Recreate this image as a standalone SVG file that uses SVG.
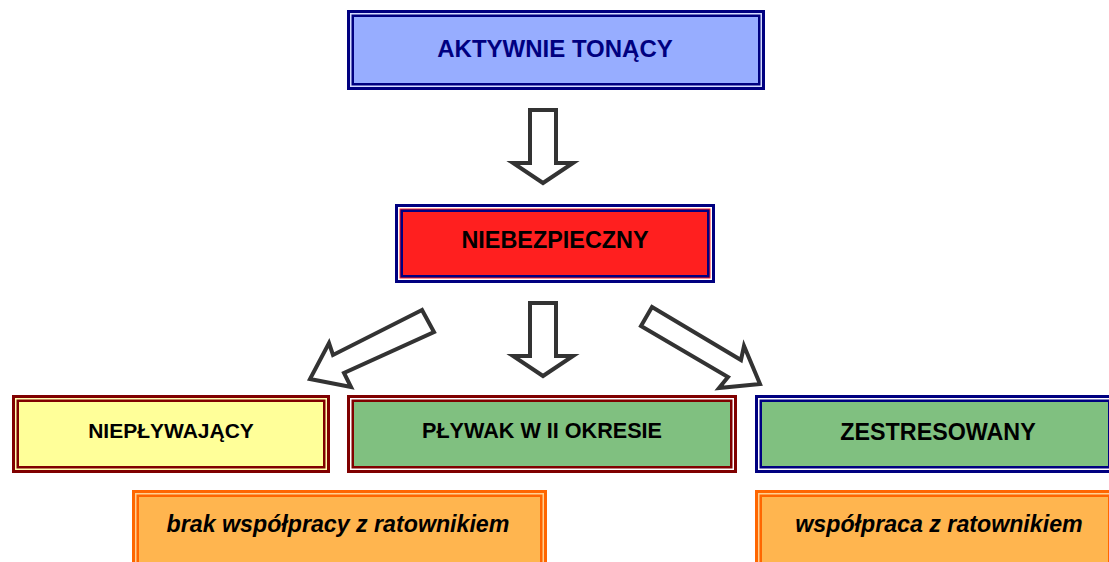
<svg xmlns="http://www.w3.org/2000/svg" width="1109" height="562" viewBox="0 0 1109 562">
<style>
  .t { font-family: "Liberation Sans", Arial, sans-serif; font-weight: bold; text-anchor: middle; }
  .it { font-style: italic; }
  .arrow { fill: #ffffff; stroke: #333333; stroke-width: 4; stroke-linejoin: miter; }
  .navy { fill: #000080; }
  .dred { fill: #800000; }
  .orng { fill: #FF6600; }
</style>
<rect width="1109" height="562" fill="#ffffff"/>

<g id="aktywnie">
  <rect class="navy" x="347" y="10" width="418" height="80"/>
  <rect x="350" y="13" width="412" height="74" fill="#D4DCFF"/>
  <rect class="navy" x="351.5" y="14.5" width="409" height="71"/>
  <rect x="354" y="17" width="404" height="66" fill="#97ADFF"/>
  <text class="t" x="555" y="57" font-size="24" fill="#000080">AKTYWNIE TONĄCY</text>
</g>

<g id="niebezpieczny">
  <rect class="navy" x="395" y="204" width="320" height="79"/>
  <rect x="398" y="207" width="314" height="73" fill="#ffffff"/>
  <rect x="399.5" y="208.5" width="311" height="70" fill="#FF2020"/>
  <rect class="navy" x="400.5" y="209.5" width="309" height="68"/>
  <rect x="403" y="212" width="304" height="63" fill="#FF1F1F"/>
  <text class="t" x="555" y="248" font-size="23.4" fill="#000000">NIEBEZPIECZNY</text>
</g>

<g id="nieplywajacy">
  <rect class="dred" x="12" y="395" width="318" height="78"/>
  <rect x="15" y="398" width="312" height="72" fill="#FFFFB0"/>
  <rect class="dred" x="16.5" y="399.5" width="309" height="69"/>
  <rect x="19" y="402" width="304" height="64" fill="#FFFF99"/>
  <text class="t" x="171" y="438" font-size="21" fill="#000000">NIEPŁYWAJĄCY</text>
</g>

<g id="plywak">
  <rect class="dred" x="347" y="395" width="390" height="78"/>
  <rect x="350" y="398" width="384" height="72" fill="#ffffff"/>
  <rect class="dred" x="351.5" y="399.5" width="381" height="69"/>
  <rect x="354" y="402" width="376" height="64" fill="#80C080"/>
  <text class="t" x="542" y="438" font-size="21.6" fill="#000000">PŁYWAK W II OKRESIE</text>
</g>

<g id="zestresowany">
  <rect class="navy" x="755" y="395" width="360" height="78"/>
  <rect x="758" y="398" width="354" height="72" fill="#ffffff"/>
  <rect class="navy" x="759.5" y="399.5" width="351" height="69"/>
  <rect x="762" y="402" width="346" height="64" fill="#80C080"/>
  <text class="t" x="938" y="440" font-size="23.3" fill="#000000">ZESTRESOWANY</text>
</g>

<g id="brak">
  <rect class="orng" x="132" y="490" width="415" height="80"/>
  <rect x="135" y="493" width="409" height="74" fill="#FFD090"/>
  <rect class="orng" x="136.5" y="494.5" width="406" height="71"/>
  <rect x="139" y="497" width="401" height="66" fill="#FFB54F"/>
  <text class="t it" x="338" y="532" font-size="23.2" fill="#000000">brak współpracy z ratownikiem</text>
</g>

<g id="wspolpraca">
  <rect class="orng" x="755" y="490" width="360" height="80"/>
  <rect x="758" y="493" width="354" height="74" fill="#FFD090"/>
  <rect class="orng" x="759.5" y="494.5" width="351" height="71"/>
  <rect x="762" y="497" width="346" height="66" fill="#FFB54F"/>
  <text class="t it" x="939" y="532" font-size="23.2" fill="#000000">współpraca z ratownikiem</text>
</g>

<g id="connectors">
  <polygon class="arrow" points="530,110 556,110 556,163 573,163 543,183 513,163 530,163"/>
  <polygon class="arrow" points="530,303 556,303 556,356 573,356 543,376 513,356 530,356"/>
  <polygon class="arrow" points="422,310 333,355 329,343 310,379 351,387 344,373 434,332"/>
  <polygon class="arrow" points="652,307 741,360 744,346 760,384 719,388 728,377 641,326"/>
</g>
</svg>
